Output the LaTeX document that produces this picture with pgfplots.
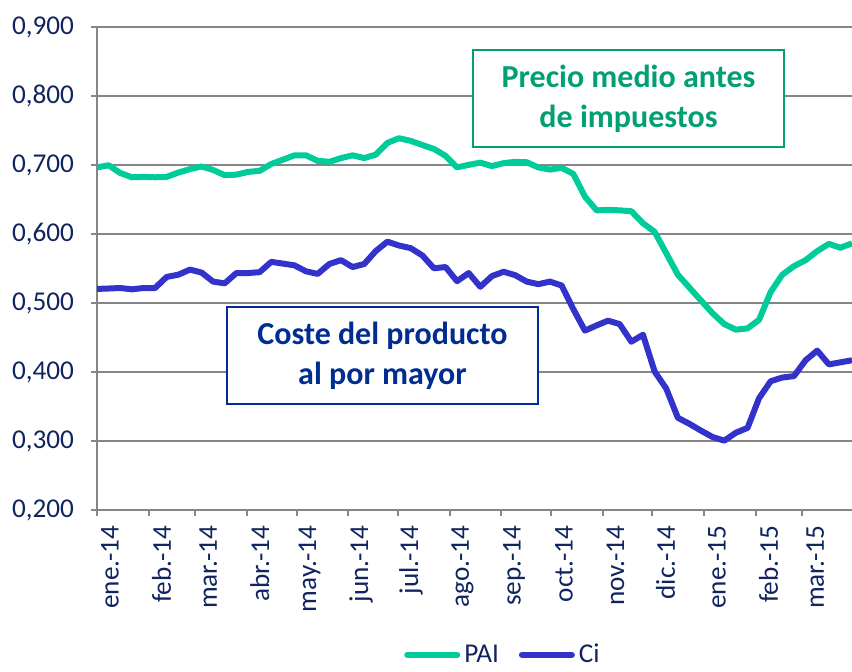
\documentclass[border=0pt]{standalone}
\usepackage{pgfplots}
\pgfplotsset{compat=1.18}
\usepackage{fontspec}
\setmainfont{Carlito}
\definecolor{pai}{RGB}{0,204,153}
\definecolor{ci}{RGB}{51,51,204}
\definecolor{txt}{RGB}{16,37,96}
\definecolor{gridc}{RGB}{134,134,134}
\definecolor{paibox}{RGB}{0,160,115}
\definecolor{cibox}{RGB}{0,45,145}

\pgfplotstableread{
x pai ci
0 0.6965 0.5204
7.0 0.6996 0.5210
14.0 0.6884 0.5217
21.0 0.6822 0.5198
27.9 0.6828 0.5217
34.9 0.6822 0.5217
41.9 0.6828 0.5378
48.9 0.6890 0.5410
55.9 0.6940 0.5484
62.9 0.6978 0.5441
69.8 0.6928 0.5310
76.8 0.6853 0.5285
83.8 0.6860 0.5434
90.8 0.6900 0.5434
97.8 0.6915 0.5447
104.8 0.7015 0.5596
111.8 0.7077 0.5571
118.7 0.7140 0.5546
125.7 0.7140 0.5459
132.7 0.7060 0.5422
139.7 0.7046 0.5565
146.7 0.7100 0.5621
153.7 0.7140 0.5521
160.7 0.7100 0.5565
167.6 0.7150 0.5752
174.6 0.7320 0.5889
181.6 0.7388 0.5833
188.6 0.7350 0.5795
195.6 0.7289 0.5690
202.6 0.7233 0.5503
209.6 0.7133 0.5521
216.5 0.6965 0.5316
223.5 0.7002 0.5434
230.5 0.7034 0.5235
237.5 0.6984 0.5390
244.5 0.7027 0.5453
251.5 0.7046 0.5403
258.4 0.7040 0.5310
265.4 0.6965 0.5273
272.4 0.6934 0.5310
279.4 0.6959 0.5254
286.4 0.6872 0.4912
293.4 0.6542 0.4600
300.4 0.6343 0.4675
307.3 0.6349 0.4744
314.3 0.6343 0.4694
321.3 0.6330 0.4439
328.3 0.6156 0.4540
335.3 0.6032 0.4008
342.3 0.5721 0.3759
349.3 0.5410 0.3336
356.2 0.5223 0.3249
363.2 0.5036 0.3150
370.2 0.4850 0.3057
377.2 0.4694 0.3005
384.2 0.4613 0.3120
391.2 0.4632 0.3190
398.1 0.4756 0.3620
405.1 0.5160 0.3866
412.1 0.5410 0.3920
419.1 0.5534 0.3940
426.1 0.5621 0.4170
433.1 0.5752 0.4310
440.1 0.5857 0.4110
447.0 0.5801 0.4140
454.0 0.5864 0.4170
}\datatable

\begin{document}
\begin{tikzpicture}
\useasboundingbox (-48.5pt,-81pt) rectangle (377.5pt,255pt);
\begin{axis}[
  at={(0pt,0pt)}, anchor=south west,
  width=377.5pt, height=241.5pt, scale only axis,
  xmin=0, xmax=454, ymin=0.2, ymax=0.9,
  axis x line*=bottom, axis y line*=left,
  axis line style={gridc, line width=1pt, -},
  ytick={0.2,0.3,0.4,0.5,0.6,0.7,0.8,0.9},
  ymajorgrids, grid style={gridc, line width=1pt},
  xtick={0,31,59,90,120,151,181,212,243,273,304,334,365,396,424},
  xticklabels={ene.-14,feb.-14,mar.-14,abr.-14,may.-14,jun.-14,jul.-14,ago.-14,sep.-14,oct.-14,nov.-14,dic.-14,ene.-15,feb.-15,mar.-15},
  x tick label style={rotate=90, anchor=east, font=\fontsize{13.6}{16}\selectfont, text=txt, yshift=-6.5pt, xshift=-1.5pt},
  /pgf/number format/assume math mode=true,
  /pgf/number format/fixed, /pgf/number format/fixed zerofill,
  /pgf/number format/precision=3, /pgf/number format/use comma,
  /pgf/number format/1000 sep={},
  y tick label style={font=\fontsize{13.6}{16}\selectfont, text=txt, xshift=-5pt},
  tick align=outside, major tick length=3pt, tick style={gridc, line width=1pt},
  legend style={at={(0.539,-0.300)}, anchor=center, draw=none, fill=none, legend columns=2,
     font=\fontsize{13.6}{16}\selectfont, text=txt,
     /tikz/every even column/.append style={column sep=8pt}},
  legend image code/.code={\draw[#1, line width=3pt, line cap=round] (0pt,0pt) -- (25pt,0pt);},
]
\addplot[pai, line width=3pt, line join=round] table[x=x, y=pai] {\datatable};
\addlegendentry{PAI}
\addplot[ci, line width=3pt, line join=round] table[x=x, y=ci] {\datatable};
\addlegendentry{Ci}
\end{axis}
\node[draw=paibox, fill=white, line width=1pt, minimum width=155.5pt, minimum height=48.5pt, align=center, text=paibox, font=\bfseries\fontsize{16}{20}\selectfont] at (265.75pt,205.75pt) {Precio medio antes\\de impuestos};
\node[draw=cibox, fill=white, line width=1pt, minimum width=155.5pt, minimum height=48.5pt, align=center, text=cibox, font=\bfseries\fontsize{16}{20}\selectfont] at (142.75pt,77.25pt) {Coste del producto\\al por mayor};
\end{tikzpicture}
\end{document}
